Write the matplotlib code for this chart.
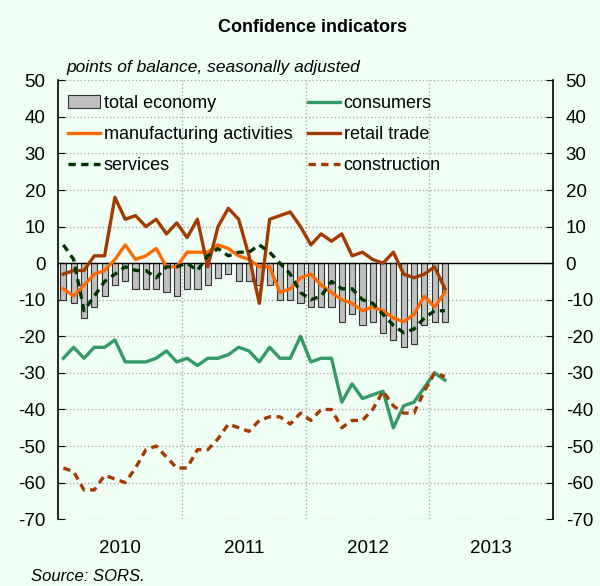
import numpy as np
import pandas as pd
import matplotlib
matplotlib.use('Agg')
import matplotlib.pyplot as plt

# Monthly data, Jan 2010 - Feb 2013
months = pd.date_range("2010-01-01", periods=38, freq="MS")

total_economy = [-10, -11, -15, -12, -9, -6, -5, -7, -7, -7, -8, -9,
                 -7, -7, -6, -4, -3, -5, -5, -6, -6, -10, -10, -11,
                 -12, -12, -12, -16, -14, -17, -16, -19, -21, -23, -22, -17, -16, -16]
consumers = [-26, -23, -26, -23, -23, -21, -27, -27, -27, -26, -24, -27,
             -26, -28, -26, -26, -25, -23, -24, -27, -23, -26, -26, -20,
             -27, -26, -26, -38, -33, -37, -36, -35, -45, -39, -38, -34, -30, -32]
manufacturing = [-7, -9, -6, -3, -2, 1, 5, 1, 2, 4, -1, -1,
                 3, 3, 3, 5, 4, 2, 1, -1, -1, -8, -7, -4,
                 -3, -6, -8, -10, -11, -13, -12, -13, -15, -16, -14, -9, -12, -8]
retail_trade = [-3, -2, -2, 2, 2, 18, 12, 13, 10, 12, 8, 11,
                7, 12, -1, 10, 15, 12, 2, -11, 12, 13, 14, 10,
                5, 8, 6, 8, 2, 3, 1, 0, 3, -3, -4, -3, -1, -7]
services = [5, 1, -13, -9, -5, -3, -1, -2, -2, -4, -1, -1,
            0, -2, 2, 4, 2, 3, 3, 5, 3, 0, -3, -8,
            -10, -9, -5, -7, -7, -10, -11, -14, -17, -19, -18, -15, -13, -13]
construction = [-56, -57, -62, -62, -58, -59, -60, -56, -51, -50, -53, -56,
                -56, -51, -51, -48, -44, -45, -46, -43, -42, -42, -44, -41,
                -43, -40, -40, -45, -43, -43, -40, -35, -39, -41, -41, -35, -30, -31]

years = [2010, 2011, 2012, 2013]

BG = '#f0fff5'
plt.rcParams['font.family'] = ['Liberation Sans', 'DejaVu Sans']
plt.rcParams['axes.unicode_minus'] = False

# decimal-year position at the middle of each month
x = months.year + (months.month - 0.5) / 12.0

fig = plt.figure(figsize=(6.0, 5.86), dpi=100, facecolor=BG)
ax = fig.add_axes([0.097, 0.114, 0.825, 0.749], facecolor=BG)

ax.bar(x, total_economy, width=0.05, color='#c0c0c0', edgecolor='#333333',
       linewidth=0.8, label='total economy', zorder=2)
ax.axhline(0, color='black', linewidth=1.0, zorder=2.5)
ax.plot(x, manufacturing, color='#ff6a00', lw=2.4, label='manufacturing activities', zorder=4)
ax.plot(x, services, color='#003300', lw=2.4, ls=(0, (2.2, 1.6)), label='services', zorder=5)
ax.plot(x, consumers, color='#339966', lw=2.4, label='consumers', zorder=4)
ax.plot(x, retail_trade, color='#a33a00', lw=2.4, label='retail trade', zorder=4)
ax.plot(x, construction, color='#a33a00', lw=2.4, ls=(0, (2.2, 1.6)), label='construction', zorder=4)

ax.set_xlim(years[0], years[-1] + 1)
ax.set_ylim(-70, 50)
ax.set_yticks(np.arange(-70, 51, 10))
ax.set_xticks([y + 0.5 for y in years])
ax.set_xticklabels([str(y) for y in years])
ax.set_xticks([y for y in years[1:]], minor=True)
ax.tick_params(axis='x', which='both', length=0, labelsize=13.5, pad=15)
ax.tick_params(axis='y', direction='in', length=5, labelsize=13.5, pad=9,
               left=True, right=True, labelleft=True, labelright=True)
ax.grid(True, axis='y', color='#aaaaaa', ls=':', lw=1.0, zorder=0)
ax.grid(True, axis='x', which='minor', color='#aaaaaa', ls=':', lw=1.0, zorder=0)
for s in ['top', 'bottom']:
    ax.spines[s].set_visible(False)
for s in ['left', 'right']:
    ax.spines[s].set_linewidth(1.2)

h, l = ax.get_legend_handles_labels()
order = ['total economy', 'manufacturing activities', 'services',
         'consumers', 'retail trade', 'construction']
hh = [h[l.index(o)] for o in order]
leg = ax.legend(hh, order, ncol=2, loc='upper left', bbox_to_anchor=(-0.005, 0.995),
                frameon=False, fontsize=13, handlelength=1.75, handletextpad=0.2,
                columnspacing=0.9, labelspacing=0.78, borderaxespad=0.3)

fig.text(0.52, 0.953, 'Confidence indicators', ha='center', va='center',
         fontsize=13, fontweight='bold')
fig.text(0.11, 0.885, 'points of balance, seasonally adjusted', ha='left', va='center',
         fontsize=12.5, style='italic')
fig.text(0.052, 0.017, 'Source: SORS.', ha='left', va='center', fontsize=12, style='italic')

fig.savefig('out.png', dpi=100, facecolor=BG)
